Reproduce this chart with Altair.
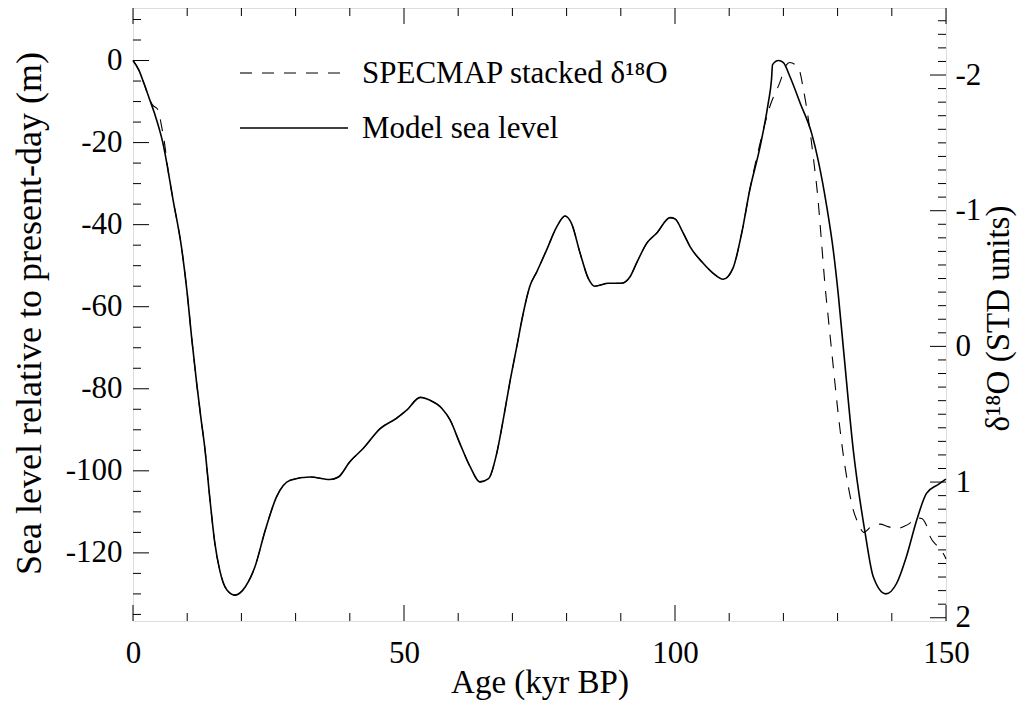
import altair as alt
import pandas as pd

# ---- data ----
model_age = [0, 1.1, 2.0, 3.1, 4.0, 5.5, 7.4, 9.0, 10.0, 10.8, 11.75, 12.5, 13.3, 14.2, 15.1, 16.0,
             17.3, 18.8, 20.7, 22.5, 24.4, 26.5, 29.0, 32.7, 36.3, 37.9, 40.0, 42.5, 45.6, 48.6,
             50.5, 53.0, 54.8, 57.0, 58.5, 60.3, 62.2, 64.0, 65.6, 67.1, 68.3, 69.6, 70.8, 72.0,
             73.2, 74.5, 76.3, 78.2, 79.7, 80.9, 82.5, 84.0, 85.2, 87.7, 90.1, 91.7, 92.9, 94.8,
             96.6, 99.1, 100.0, 101.5, 102.8, 105.2, 107.0, 108.9, 110.7, 112.3, 113.8, 115.7,
             117.2, 117.8, 118.0, 119.1, 120.0, 121.2, 123.1, 125.2, 126.4, 128.0, 129.2, 130.1,
             131.1, 132.9, 135.1, 136.6, 138.9, 140.9, 142.7, 144.6, 146.4, 148.6, 150.0]
model_sl = [0, -2.4, -5.5, -9.6, -13, -20, -34, -46, -56.7, -67.3, -78.7, -86.8, -95, -107, -117.6,
            -124.2, -129, -130.3, -128.3, -123.4, -114.5, -106.3, -102.3, -101.5, -102.1, -101.5,
            -97.8, -94.5, -89.7, -87.2, -85.2, -82.1, -82.8, -84.8, -87.6, -93.3, -99, -102.7,
            -101.9, -95.8, -87.6, -77.9, -69.8, -61.6, -55.1, -51.5, -46.2, -40.5, -37.9, -39.7,
            -47, -53.1, -55, -54.3, -54.3, -52.7, -49.4, -44.5, -42.1, -38.3, -38.6, -42.0, -45.4,
            -49.4, -51.8, -53.3, -50.6, -42.1, -31.5, -21, -10.4, -4.7, -1, 0, -0.5, -3.9, -10.4,
            -17.7, -24.2, -35.6, -46.2, -56.7, -70.6, -95, -115.3, -125.9, -130, -127.4, -120.9,
            -112, -105.5, -103.3, -102]

specmap_age = [0, 1.1, 2.0, 3.1, 3.6, 4.6, 5.2, 5.8, 6.5, 7.4, 9.0, 10.0, 10.8, 11.75, 12.5, 13.3,
               14.2, 15.1, 16.0, 17.3, 18.8, 20.7, 22.5, 24.4, 26.5, 29.0, 32.7, 36.3, 37.9, 40.0,
               42.5, 45.6, 48.6, 50.5, 53.0, 54.8, 57.0, 58.5, 60.3, 62.2, 64.0, 65.6, 67.1, 68.3,
               69.6, 70.8, 72.0, 73.2, 74.5, 76.3, 78.2, 79.7, 80.9, 82.5, 84.0, 85.2, 87.7, 90.1,
               91.7, 92.9, 94.8, 96.6, 99.1, 100.0, 101.5, 102.8, 105.2, 107.0, 108.9, 110.7, 112.3,
               113.8, 116.0, 117.5, 119.3, 120.6, 121.2, 122.8, 123.7, 124.8, 125.5, 126.4, 127.0,
               127.7, 128.3, 129.2, 130.1, 131.1, 132.0, 132.9, 133.8, 134.8, 136.3, 137.8, 139.3,
               140.9, 142.3, 143.3, 144.5, 145.5, 146.3, 147.1, 148.5, 149.8, 150.0]
specmap_sl = [0, -2.4, -5.5, -9.6, -10.8, -12, -15.5, -20, -27, -34, -46, -56.7, -67.3, -78.7,
              -86.8, -95, -107, -117.6, -124.2, -129, -130.3, -128.3, -123.4, -114.5, -106.3,
              -102.3, -101.5, -102.1, -101.5, -97.8, -94.5, -89.7, -87.2, -85.2, -82.1, -82.8,
              -84.8, -87.6, -93.3, -99, -102.7, -101.9, -95.8, -87.6, -77.9, -69.8, -61.6, -55.1,
              -51.5, -46.2, -40.5, -37.9, -39.7, -47, -53.1, -55, -54.3, -54.3, -52.7, -49.4,
              -44.5, -42.1, -38.3, -38.6, -42.0, -45.4, -49.4, -51.8, -53.3, -50.6, -42.1, -31.5,
              -18.5, -11.2, -5.5, -1, -0.5, -1.9, -7.1, -16.1, -23.4, -34, -43.7, -55.1, -63,
              -74.6, -86, -96.6, -104, -109.6, -112.8, -115, -113.5, -113, -113.6, -114.1, -113.5,
              -112.8, -111.5, -111.6, -113, -116.1, -118.5, -120.9, -121.5]

x_major = [0, 50, 100, 150]
x_minor = [10, 20, 30, 40, 60, 70, 80, 90, 110, 120, 130, 140]
y_major = [0, -20, -40, -60, -80, -100, -120]
y_minor = [10, 5, -5, -10, -15, -25, -30, -35, -45, -50, -55, -65, -70, -75, -85, -90, -95,
           -105, -110, -115, -125, -130, -135]
d_major = [-2, -1, 0, 1, 2]
d_minor = [-2.4, -2.3, -2.2, -2.1, -1.9, -1.8, -1.7, -1.6, -1.5, -1.4, -1.3, -1.2, -1.1,
           -0.9, -0.8, -0.7, -0.6, -0.5, -0.4, -0.3, -0.2, -0.1, 0.1, 0.2, 0.3, 0.4, 0.5,
           0.6, 0.7, 0.8, 0.9, 1.1, 1.2, 1.3, 1.4, 1.5, 1.6, 1.7, 1.8, 1.9]

legend_labels = ["SPECMAP stacked δ¹⁸O", "Model sea level"]
x_title = "Age (kyr BP)"
y_title = "Sea level relative to present-day (m)"
d_title = "δ¹⁸O (STD units)"

FONT = "Liberation Serif"
W, H = 813, 613
XDOM = [0, 150]
YDOM = [-136.6, 12.8]
DDOM = [-2.494, 2.024]

model_df = pd.DataFrame({"age": model_age, "sl": model_sl})
spec_df = pd.DataFrame({"age": specmap_age, "sl": specmap_sl})

xscale = alt.Scale(domain=XDOM, nice=False, zero=False)
yscale = alt.Scale(domain=YDOM, nice=False, zero=False)
dscale = alt.Scale(domain=DDOM, nice=False, zero=False, reverse=True)

num_expr = "'' + datum.value"

x_axis = alt.Axis(values=x_major, ticks=False, domain=False, grid=False, orient="bottom",
                  labelFont=FONT, labelFontSize=31, labelColor="black", labelPadding=17,
                  labelExpr=num_expr, labelFlush=False,
                  title=x_title, titleFont=FONT, titleFontSize=33,
                  titleFontWeight="normal", titleColor="black",
                  titleBaseline="alphabetic", titleY=71)
y_axis = alt.Axis(values=y_major, ticks=False, domain=False, grid=False, orient="left",
                  labelFont=FONT, labelFontSize=31, labelColor="black", labelPadding=11,
                  labelExpr=num_expr, labelFlush=False,
                  title=y_title, titleFont=FONT,
                  titleFontSize=36, titleFontWeight="normal", titleColor="black",
                  titleAngle=270, titleAlign="center", titleBaseline="alphabetic",
                  titleX=-93, titleY=305)
d_axis = alt.Axis(values=d_major, ticks=False, domain=False, grid=False, orient="right",
                  labelFont=FONT, labelFontSize=31, labelColor="black", labelPadding=9,
                  labelExpr=num_expr, labelFlush=False,
                  title=d_title, titleFont=FONT, titleFontSize=33,
                  titleFontWeight="normal", titleColor="black",
                  titleAngle=270, titleAlign="center", titleBaseline="alphabetic",
                  titleX=62, titleY=310)

solid = alt.Chart(model_df).mark_line(color="black", strokeWidth=1.6, interpolate="monotone").encode(
    x=alt.X("age:Q", scale=xscale, axis=x_axis, title=x_title),
    y=alt.Y("sl:Q", scale=yscale, axis=y_axis, title=y_title),
)
dashed = alt.Chart(spec_df).mark_line(color="black", strokeWidth=1.1, strokeDash=[12, 10],
                                      interpolate="monotone").encode(
    x=alt.X("age:Q", scale=xscale, axis=None),
    y=alt.Y("sl:Q", scale=yscale, axis=None),
)

def xticks(vals, length):
    df = pd.DataFrame({"t": vals})
    base = alt.Chart(df).mark_rule(color="black", strokeWidth=1)
    bottom = base.encode(x=alt.X("t:Q", scale=xscale, axis=None),
                         y=alt.value(H - length), y2=alt.value(H))
    top = base.encode(x=alt.X("t:Q", scale=xscale, axis=None),
                      y=alt.value(0), y2=alt.value(length))
    return [bottom, top]

def yticks(vals, length):
    df = pd.DataFrame({"t": vals})
    return alt.Chart(df).mark_rule(color="black", strokeWidth=1).encode(
        y=alt.Y("t:Q", scale=yscale, axis=None),
        x=alt.value(0), x2=alt.value(length))

def dticks(vals, length, axis):
    df = pd.DataFrame({"t": vals})
    return alt.Chart(df).mark_rule(color="black", strokeWidth=1).encode(
        y=alt.Y("t:Q", scale=dscale, axis=axis, title=d_title),
        x=alt.value(W - length), x2=alt.value(W))

one = pd.DataFrame({"k": [0]})
leg_dash = alt.Chart(one).mark_rule(color="black", strokeWidth=1.1, strokeDash=[12, 10]).encode(
    x=alt.value(107), x2=alt.value(215), y=alt.value(65))
leg_solid = alt.Chart(one).mark_rule(color="black", strokeWidth=1.6).encode(
    x=alt.value(107), x2=alt.value(215), y=alt.value(120))
leg_t1 = alt.Chart(one).mark_text(align="left", baseline="middle", font=FONT, fontSize=31,
                                  color="black").encode(
    x=alt.value(229), y=alt.value(66), text=alt.value(legend_labels[0]))
leg_t2 = alt.Chart(one).mark_text(align="left", baseline="middle", font=FONT, fontSize=31,
                                  color="black").encode(
    x=alt.value(229), y=alt.value(121), text=alt.value(legend_labels[1]))

chart = alt.layer(
    solid, dashed,
    *xticks(x_major, 16), *xticks(x_minor, 8),
    yticks(y_major, 16), yticks(y_minor, 8),
    dticks(d_major, 16, d_axis), dticks(d_minor, 8, None),
    leg_dash, leg_solid, leg_t1, leg_t2,
).resolve_scale(x="independent", y="independent").properties(
    width=W, height=H,
    autosize=alt.AutoSizeParams(type="none"),
    padding={"left": 125, "top": 0, "right": 71, "bottom": 81},
).configure_view(stroke="black", strokeWidth=1.2).configure(background="white")

chart.save("out.html", embed_options={"renderer": "svg", "actions": False})
